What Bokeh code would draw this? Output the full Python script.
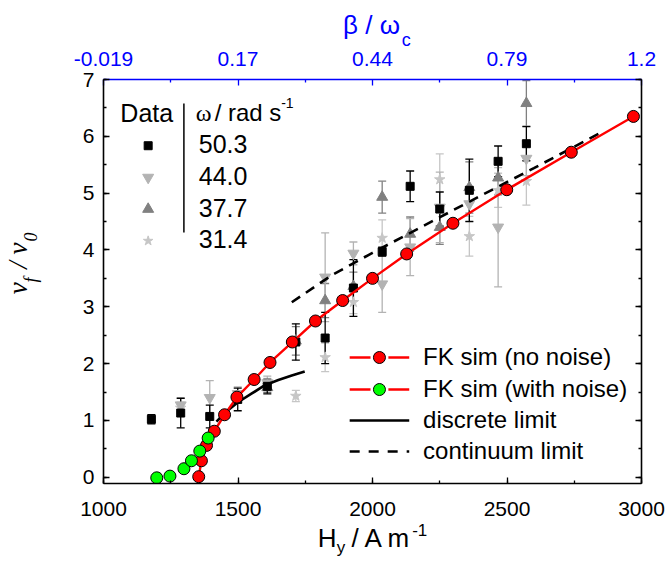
from bokeh.plotting import figure
from bokeh.models import (ColumnDataSource, Whisker, TeeHead, LinearAxis, Range1d,
                          SingleIntervalTicker, FixedTicker, Label)
from bokeh.embed import file_html
from bokeh.resources import INLINE

# ---------------- data ----------------
fk_h = [1354, 1364, 1383, 1412, 1450, 1496, 1560, 1619, 1702, 1788, 1889, 2000, 2127, 2299, 2499, 2739, 2970]
fk_v = [0.01, 0.29, 0.56, 0.81, 1.10, 1.41, 1.72, 2.02, 2.38, 2.75, 3.11, 3.50, 3.93, 4.47, 5.06, 5.72, 6.35]

noise_h = [1198, 1247, 1299, 1327, 1358, 1389]
noise_v = [-0.01, 0.02, 0.15, 0.29, 0.46, 0.69]

disc_h = [1420, 1450, 1500, 1550, 1600, 1650, 1700, 1748]
disc_v = [0.98, 1.13, 1.32, 1.47, 1.62, 1.71, 1.79, 1.86]

cont_h = [1700, 1850, 2000, 2200, 2400, 2600, 2850]
cont_v = [3.08, 3.56, 3.95, 4.45, 4.95, 5.44, 6.07]

s50_h = [1178, 1287, 1395, 1499, 1609, 1715, 1824, 1929, 2036, 2140, 2250, 2360, 2467, 2572]
s50_v = [1.02, 1.13, 1.07, 1.37, 1.60, 2.38, 2.45, 3.33, 3.97, 5.12, 4.72, 5.05, 5.56, 5.87]
s50_e = [0.08, 0.26, 0.20, 0.20, 0.12, 0.32, 0.45, 0.50, 0.08, 0.27, 0.30, 0.55, 0.27, 0.30]

s44_h = [1287, 1395, 1499, 1609, 1824, 1929, 2036, 2140, 2250, 2360, 2467, 2572]
s44_v = [1.27, 1.40, 1.47, 1.66, 3.52, 3.94, 3.40, 4.05, 4.75, 4.81, 4.40, 5.61]
s44_e = [0.12, 0.30, 0.12, 0.12, 0.78, 0.20, 0.50, 0.50, 0.62, 0.30, 1.05, 0.30]

s37_h = [1499, 1609, 1715, 1824, 1929, 2036, 2140, 2250, 2360, 2467, 2572]
s37_v = [1.42, 1.58, 2.40, 3.11, 3.36, 4.93, 4.28, 4.40, 5.10, 5.27, 6.58]
s37_e = [0.10, 0.12, 0.25, 0.30, 0.25, 0.28, 0.30, 0.30, 0.45, 0.30, 0.40]

s31_h = [1287, 1499, 1609, 1715, 1824, 1929, 2036, 2250, 2360, 2467, 2572]
s31_v = [1.22, 1.42, 1.62, 1.43, 2.11, 3.08, 4.21, 5.24, 4.24, 5.05, 5.21]
s31_e = [0.10, 0.10, 0.12, 0.10, 0.25, 0.20, 0.32, 0.45, 0.35, 0.30, 0.42]

omega_labels = ["50.3", "44.0", "37.7", "31.4"]
top_ticks = [1000, 1500, 2000, 2500, 3000]
top_labels = ["-0.019", "0.17", "0.44", "0.79", "1.2"]
legend_labels = ["FK sim (no noise)", "FK sim (with noise)", "discrete limit", "continuum limit"]

# ---------------- figure ----------------
FONT = "Liberation Sans"
SERIF = "Liberation Serif"
NB = "\u00a0"
p = figure(width=666, height=564, x_range=Range1d(1000, 3000), y_range=Range1d(-0.11, 7.0),
           output_backend="svg", toolbar_location=None,
           min_border_left=99, min_border_right=25, min_border_top=79, min_border_bottom=81)
p.grid.visible = False
p.outline_line_color = None
p.background_fill_color = "white"
p.border_fill_color = "white"

p.xaxis.ticker = SingleIntervalTicker(interval=500, num_minor_ticks=2)
p.yaxis.ticker = SingleIntervalTicker(interval=1, num_minor_ticks=2)


def style_axis(ax, color="black", standoff=8):
    ax.axis_line_color = color
    ax.axis_line_width = 1.6
    ax.major_tick_line_color = color
    ax.minor_tick_line_color = color
    ax.major_tick_line_width = 1.3
    ax.minor_tick_line_width = 1.3
    ax.major_tick_in = 6
    ax.major_tick_out = 0
    ax.minor_tick_in = 3
    ax.minor_tick_out = 0
    ax.major_label_text_font = FONT
    ax.major_label_text_color = color
    ax.major_label_standoff = standoff
    ax.major_label_text_font_size = "21px"


style_axis(p.xaxis[0], standoff=18)
style_axis(p.yaxis[0], standoff=9)

right_ax = LinearAxis(ticker=SingleIntervalTicker(interval=1, num_minor_ticks=2),
                      major_label_overrides={i: "" for i in range(8)})
style_axis(right_ax, standoff=0)
p.add_layout(right_ax, "right")

top_ax = LinearAxis(ticker=FixedTicker(ticks=top_ticks, minor_ticks=[1250, 1750, 2250, 2750]),
                    major_label_overrides={t: l for t, l in zip(top_ticks, top_labels)})
style_axis(top_ax, color="#0000ff", standoff=14)
p.add_layout(top_ax, "above")


# helpers mapping picture position (px) to data coordinates for annotations
def hx(px):
    return round(1000 + (px - 99) * 2000 / 542, 2)


def vy(py):
    return round((476.7 - py) / 56.8, 4)


# title pieces: drawn as labels of tick-less axes (so they can sit outside the frame)
def text_axis(side, positions, texts, size, standoff, font=FONT, style="normal",
              color="black", vertical=False):
    ax = LinearAxis(ticker=FixedTicker(ticks=positions, minor_ticks=[]),
                    major_label_overrides=dict(zip(positions, texts)))
    ax.axis_line_color = None
    ax.major_tick_line_color = None
    ax.minor_tick_line_color = None
    ax.major_tick_in = 0
    ax.major_tick_out = 0
    ax.minor_tick_in = 0
    ax.minor_tick_out = 0
    ax.major_label_text_font = font
    ax.major_label_text_font_size = f"{size}px"
    ax.major_label_text_font_style = style
    ax.major_label_text_color = color
    ax.major_label_standoff = standoff
    if vertical:
        ax.major_label_orientation = "vertical"
    p.add_layout(ax, side)


# bottom title: H_y / A m^-1
text_axis("below", [hx(417.6)], ["-1"], 17, 5)
text_axis("below", [hx(324.4), hx(379.3)], ["H", "/ A m"], 26, -16)
text_axis("below", [hx(338.3)], ["y"], 17, -18)
# top title: beta / omega_c
text_axis("above", [hx(404)], ["c"], 18, -1, color="#0000ff")
text_axis("above", [hx(369)], ["β / ω"], 26, -13, color="#0000ff")
# left title: nu_f / nu_0 (subscripts in their own row, spaced with no-break spaces)
text_axis("left", [vy(256.9)], ["f" + NB * 8 + "0"], 18, 38, font=SERIF, style="italic", vertical=True)
text_axis("left", [vy(268)], ["ν" + NB * 2 + "/" + NB + "ν"], 27, -15, font=SERIF,
          style="italic", vertical=True)

# ---------------- measured data series ----------------
series = [
    (s31_h, s31_v, s31_e, "star", "#c6c6c6", 11),
    (s37_h, s37_v, s37_e, "triangle", "#808080", 11),
    (s44_h, s44_v, s44_e, "inverted_triangle", "#b3b3b3", 11),
    (s50_h, s50_v, s50_e, "square", "#000000", 8),
]
for hs, vs, es, mk, col, sz in series:
    src = ColumnDataSource(dict(x=hs, y=vs,
                                upper=[v + e for v, e in zip(vs, es)],
                                lower=[v - e for v, e in zip(vs, es)]))
    w = Whisker(source=src, base="x", upper="upper", lower="lower",
                line_color=col, line_width=1.3, level="underlay",
                upper_head=TeeHead(size=8, line_color=col, line_width=1.3),
                lower_head=TeeHead(size=8, line_color=col, line_width=1.3))
    p.add_layout(w)
    p.scatter("x", "y", source=src, marker=mk, size=sz, fill_color=col, line_color=col)

# ---------------- model curves ----------------
p.line(cont_h, cont_v, line_color="black", line_width=2.6, line_dash="10 7")
p.line(disc_h, disc_v, line_color="black", line_width=2.6)
p.line(fk_h, fk_v, line_color="#ff0000", line_width=2.4)
p.scatter(fk_h, fk_v, marker="circle", size=12, fill_color="#ff0000", line_color="black", line_width=1)
p.scatter(noise_h, noise_v, marker="circle", size=12, fill_color="#00ff00", line_color="black", line_width=1)


# ---------------- in-frame text helper ----------------
TXT_SHIFT = 9.5   # labels are drawn a little below their anchor; compensate


def lab(px, py, text, size, font=FONT, style="normal", color="black"):
    p.add_layout(Label(x=hx(px), y=vy(py - TXT_SHIFT), text=text, text_font=font,
                       text_font_size=f"{size}px", text_font_style=style, text_color=color,
                       text_align="left", text_baseline="alphabetic"))


# ---------------- top-left legend ----------------
lab(116, 121.7, "Data", 25)
lab(192, 121.7, "ω", 24, font=SERIF)
lab(211, 121.7, "/ rad s", 24)
lab(278, 112, "-1", 14)
p.line([hx(180), hx(180)], [vy(103), vy(232)], line_color="black", line_width=1.5)

row_base = [153.3, 185.0, 216.7, 248.4]
leg_marks = [("square", "#000000", 8), ("inverted_triangle", "#b3b3b3", 11),
             ("triangle", "#808080", 11), ("star", "#c6c6c6", 10)]
for (mk, col, sz), txt, b in zip(leg_marks, omega_labels, row_base):
    p.scatter([hx(144)], [vy(b - 8)], marker=mk, size=sz, fill_color=col, line_color=col)
    lab(195, b, txt, 25)

# ---------------- bottom-right legend ----------------
rows = [357, 389, 420, 451]
for yc, fill in zip(rows[:2], ["#ff0000", "#00ff00"]):
    p.line([hx(347), hx(368)], [vy(yc), vy(yc)], line_color="#ff0000", line_width=2.4)
    p.line([hx(386), hx(407)], [vy(yc), vy(yc)], line_color="#ff0000", line_width=2.4)
    p.scatter([hx(377)], [vy(yc)], marker="circle", size=12, fill_color=fill, line_color="black", line_width=1)
p.line([hx(347), hx(407)], [vy(rows[2]), vy(rows[2])], line_color="black", line_width=2.6)
p.line([hx(347), hx(407)], [vy(rows[3]), vy(rows[3])], line_color="black", line_width=2.6, line_dash="10 9")
for yc, txt in zip(rows, legend_labels):
    lab(421, yc + 8.5, txt, 24)

open("out.html", "w").write(file_html(p, INLINE))
